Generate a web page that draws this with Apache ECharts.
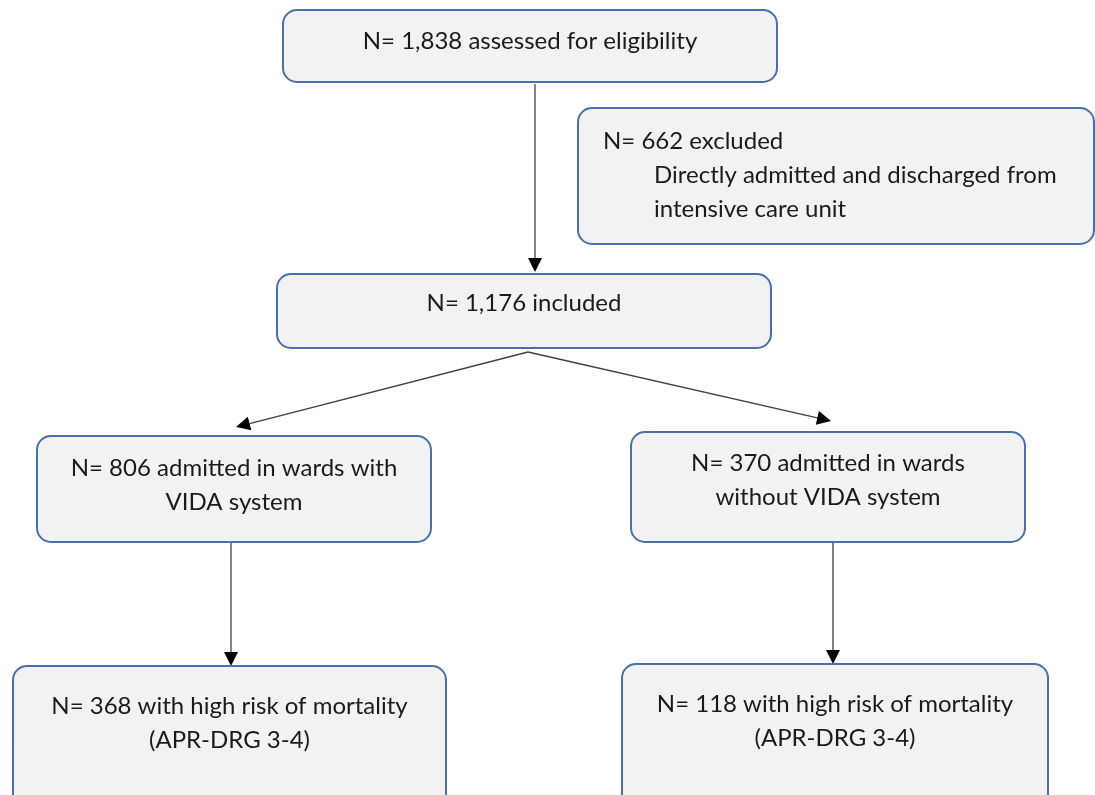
<!DOCTYPE html>
<html>
<head>
<meta charset="utf-8">
<script src="https://cdn.jsdelivr.net/npm/echarts@6/dist/echarts.min.js"></script>
<style>html,body{margin:0;padding:0;background:#fff}#chart{width:1095px;height:795px}</style>
</head>
<body>
<div id="chart"></div>
<script>
// ---- data ----
const nodeIds = ['assessed', 'excluded', 'included', 'withVida', 'withoutVida', 'withVidaHigh', 'withoutVidaHigh'];
const nodeCounts = [1838, 662, 1176, 806, 370, 368, 118];
const nodeLines = [
  ['N= 1,838 assessed for eligibility'],
  ['N= 662 excluded', 'Directly admitted and discharged from', 'intensive care unit'],
  ['N= 1,176 included'],
  ['N= 806 admitted in wards with', 'VIDA system'],
  ['N= 370 admitted in wards', 'without VIDA system'],
  ['N= 368 with high risk of mortality', '(APR-DRG 3-4)'],
  ['N= 118 with high risk of mortality', '(APR-DRG 3-4)']
];
const flowFrom = ['assessed', 'included', 'included', 'withVida', 'withoutVida'];
const flowTo = ['included', 'withVida', 'withoutVida', 'withVidaHigh', 'withoutVidaHigh'];

// ---- layout (canvas units) ----
const boxRects = [
  [283, 10, 777, 82],
  [578, 108, 1094, 244],
  [277, 274, 771, 348],
  [37, 436, 431, 542],
  [631, 432, 1025, 542],
  [13, 666, 446, 812],
  [622, 664, 1048, 812]
];
const textFirstY = [41, 141, 303, 468, 463, 706, 704];
const textAlignMode = ['center', 'left', 'center', 'center', 'center', 'center', 'center'];
const leftTextX = [603, 654, 654];
const lineGap = 34;
const arrowPaths = [
  [[535, 84], [535, 272]],
  [[528, 352], [236, 427]],
  [[528, 352], [831, 421]],
  [[231, 543], [231, 666]],
  [[833, 543], [833, 664]]
];

const chart = echarts.init(document.getElementById('chart'), null, {renderer: 'canvas'});
const FONT = 'Lato, "Open Sans", sans-serif';
const FS = 24;

function renderBox(params, api) {
  const i = api.value(0);
  const r = boxRects[i];
  const p0 = api.coord([r[0], r[1]]);
  const p1 = api.coord([r[2], r[3]]);
  const children = [{
    type: 'rect',
    shape: {x: p0[0], y: p0[1], width: p1[0] - p0[0], height: p1[1] - p0[1], r: 14},
    style: {fill: '#f2f2f2', stroke: '#4a70a8', lineWidth: 2}
  }];
  nodeLines[i].forEach(function (ln, k) {
    const yy = api.coord([0, textFirstY[i] + k * lineGap])[1];
    let xx, align;
    if (textAlignMode[i] === 'left') {
      xx = api.coord([leftTextX[k], 0])[0];
      align = 'left';
    } else {
      xx = (p0[0] + p1[0]) / 2;
      align = 'center';
    }
    children.push({
      type: 'text',
      style: {text: ln, x: xx, y: yy, align: align, verticalAlign: 'middle',
        font: FS + 'px ' + FONT, fill: '#1a1a1a'}
    });
  });
  return {type: 'group', children: children};
}

function renderArrow(params, api) {
  const i = api.value(0);
  const a = api.coord(arrowPaths[i][0]);
  const b = api.coord(arrowPaths[i][1]);
  const dx = b[0] - a[0], dy = b[1] - a[1];
  const len = Math.sqrt(dx * dx + dy * dy);
  const ux = dx / len, uy = dy / len;
  const L = 14, W = 7;
  const base = [b[0] - ux * L, b[1] - uy * L];
  const px = -uy, py = ux;
  return {
    type: 'group',
    children: [
      {type: 'line', shape: {x1: a[0], y1: a[1], x2: base[0], y2: base[1]},
        style: {stroke: '#404040', lineWidth: 1.3}},
      {type: 'polygon', shape: {points: [b, [base[0] + px * W, base[1] + py * W], [base[0] - px * W, base[1] - py * W]]},
        style: {fill: '#000'}}
    ]
  };
}

chart.setOption({
  animation: false,
  backgroundColor: '#ffffff',
  grid: {left: 0, right: 0, top: 0, bottom: 0},
  xAxis: {type: 'value', min: 0, max: 1095, show: false},
  yAxis: {type: 'value', min: 0, max: 795, inverse: true, show: false},
  series: [
    {
      type: 'custom', name: 'flows', renderItem: renderArrow, clip: false,
      data: flowFrom.map(function (f, i) { return [i, nodeCounts[nodeIds.indexOf(flowTo[i])]]; })
    },
    {
      type: 'custom', name: 'nodes', renderItem: renderBox, clip: true,
      data: nodeIds.map(function (id, i) { return [i, nodeCounts[i]]; })
    }
  ]
});
</script>
</body>
</html>
